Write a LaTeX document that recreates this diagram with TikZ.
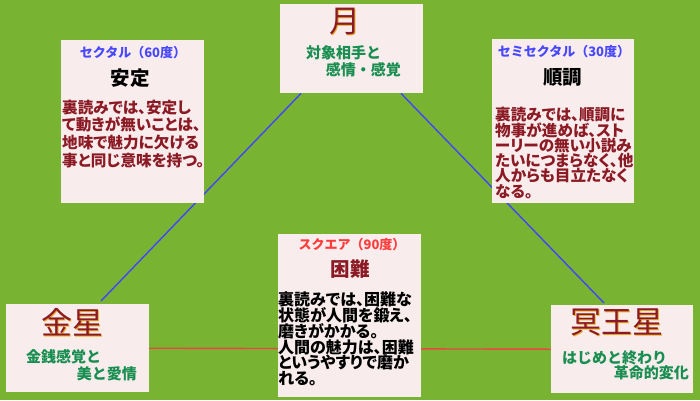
\documentclass[tikz,border=0pt]{standalone}
\usepackage{fontspec}
\setmainfont{Noto Sans CJK JP}
\newfontfamily\pfont{Noto Sans CJK JP}[RawFeature=+palt]
\usetikzlibrary{calc}
\definecolor{bg}{HTML}{78B432}
\definecolor{boxfill}{HTML}{F8ECEC}
\definecolor{bodyred}{HTML}{8B1A24}
\definecolor{jpgreen}{HTML}{188E50}
\definecolor{ttlblue}{HTML}{4848FF}
\definecolor{ttlred}{HTML}{FF3C3C}
\definecolor{lineblue}{HTML}{4444FF}
\definecolor{linered}{HTML}{EE4444}
\definecolor{gold}{HTML}{E8B030}
\tikzset{
  card/.style={fill=boxfill, draw=none, anchor=north west, inner sep=0},
  ttl/.style={inner sep=0, font=\bfseries\fontsize{13}{13}\selectfont},
  head/.style={inner sep=0, font=\bfseries\fontsize{19.5}{19.5}\selectfont},
  body/.style={anchor=north west, inner sep=0, align=left, text=bodyred},
  grn/.style={inner sep=0, text=jpgreen, font=\bfseries\fontsize{15}{15}\selectfont},
  big/.style={inner sep=0, font=\fontsize{31}{31}\selectfont},
  aspect/.style={line width=1.4pt}
}
\newcommand{\planet}[3]{%
  \node[big, text=gold] at ($(#1)+(0.9,0.9)$) {#3};
  \node[big, text=bodyred] (#2) at (#1) {#3};}
\begin{document}
\begin{tikzpicture}[x=1pt,y=-1pt]
\fill[bg] (0,0) rectangle (700,400);
\useasboundingbox (0,0) rectangle (700,400);
% box anchors
\coordinate (moonNW) at (280,4);
\coordinate (sextNW) at (61,40);
\coordinate (semiNW) at (492,39);
\coordinate (sqNW) at (278,234);
\coordinate (venNW) at (6,304);
\coordinate (pluNW) at (551,305);
% boxes as nodes (geometry only, drawn later on top)
\path (moonNW) node[minimum width=143pt, minimum height=89pt, anchor=north west, inner sep=0] (moon) {};
\path (venNW) node[minimum width=143pt, minimum height=88pt, anchor=north west, inner sep=0] (venus) {};
\path (pluNW) node[minimum width=142pt, minimum height=88pt, anchor=north west, inner sep=0] (pluto) {};
\coordinate (mL) at ($(moon.south west)+(21,0)$);
\coordinate (mR) at ($(moon.south west)+(121,0)$);
\coordinate (vT) at ($(venus.north west)+(95,-3)$);
\coordinate (pT) at ($(pluto.north west)+(53,-2)$);
% aspect lines
\draw[aspect, lineblue] (vT) -- (mL);
\draw[aspect, lineblue] (mR) -- (pT);
\draw[aspect, linered] (venus.east) -- (pluto.west);
% cards
\node[card, minimum width=143pt, minimum height=89pt] (moonbox) at (moonNW) {};
\node[card, minimum width=143pt, minimum height=163pt] (sext) at (sextNW) {};
\node[card, minimum width=142pt, minimum height=164pt] (semi) at (semiNW) {};
\node[card, minimum width=143pt, minimum height=163pt] (square) at (sqNW) {};
\node[card, minimum width=143pt, minimum height=88pt] (venbox) at (venNW) {};
\node[card, minimum width=142pt, minimum height=88pt] (plubox) at (pluNW) {};
% moon
\planet{345,22}{moonT}{月}
\node[grn, anchor=west] (moonA) at (306,53) {対象相手と};
\node[grn, anchor=east] (moonB) at (401,70) {感情・感覚};
% venus
\planet{72.5,322}{venT}{金星}
\node[grn, anchor=west] (venA) at (26,357) {金銭感覚と};
\node[grn, anchor=east] (venB) at (137,374) {美と愛情};
% pluto
\planet{617,322}{pluT}{冥王星}
\node[grn, anchor=west] (pluA) at (562,358) {はじめと終わり};
\node[grn, anchor=east] (pluB) at (689,373) {革命的変化};
% sextile
\node[ttl, text=ttlblue] (sextT) at (133,53) {セクタル（60度）};
\node[head, text=black] (sextH) at (130,78) {安定};
\node[body, font=\pfont\bfseries\fontsize{15.6}{17.7}\selectfont] (sextB) at (62,99.5) {裏読みでは、安定し\\て動きが無いことは、\\地味で魅力に欠ける\\事と同じ意味を持つ。};
% semisextile
\node[ttl, text=ttlblue] (semiT) at (564,52) {セミセクタル（30度）};
\node[head, text=black] (semiH) at (562.5,77) {順調};
\node[body, font=\pfont\bfseries\fontsize{15.6}{15.2}\selectfont] (semiB) at (495,106.5) {裏読みでは、順調に\\物事が進めば、スト\\ーリーの無い小説み\\たいにつまらなく、他\\人からも目立たなく\\なる。};
% square
\node[ttl, text=ttlred] (sqT) at (352,245) {スクエア（90度）};
\node[head, text=bodyred] (sqH) at (350,269) {困難};
\node[body, text=black, font=\pfont\bfseries\fontsize{16}{15.7}\selectfont] (sqB) at (278,292) {裏読みでは、困難な\\状態が人間を鍛え、\\磨きがかかる。\\人間の魅力は、困難\\というやすりで磨か\\れる。};
\end{tikzpicture}
\end{document}
